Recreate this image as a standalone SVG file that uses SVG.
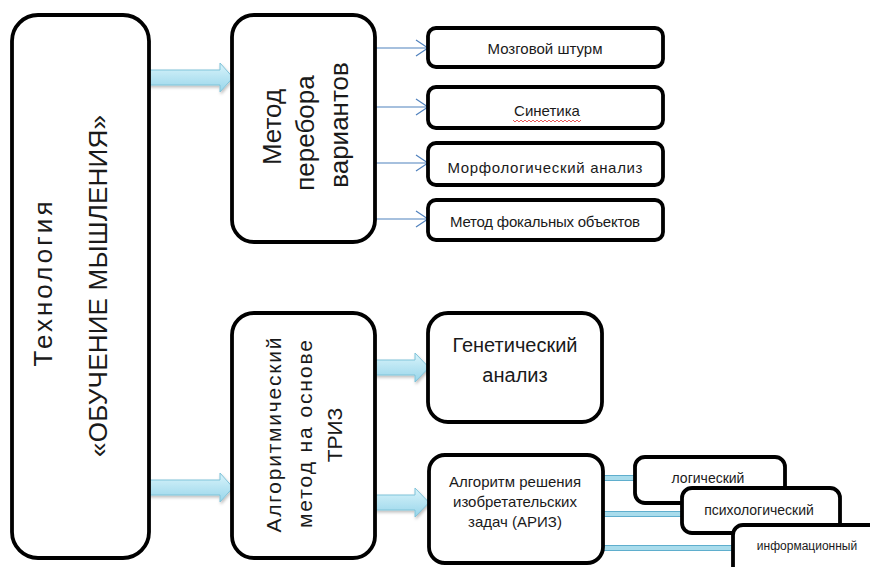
<svg xmlns="http://www.w3.org/2000/svg" width="870" height="567" viewBox="0 0 870 567">
<style>
.box{fill:#fff;stroke:#000;stroke-width:3.8}
.t{font-family:"Liberation Sans",Arial,sans-serif;fill:#1a1a1a;text-anchor:middle}
.thin{stroke:#4f81bd;stroke-width:1.2;fill:none}
.blk{fill:url(#g);stroke:#7fc3d9;stroke-width:1;filter:url(#sh)}
.bar{fill:#a9dcec;stroke:#5faecd;stroke-width:1}
</style>
<defs>
<linearGradient id="g" x1="0" y1="0" x2="0" y2="1">
<stop offset="0" stop-color="#d9f4fb"/>
<stop offset="1" stop-color="#97d5ea"/>
</linearGradient>
<filter id="sh" x="-20%" y="-40%" width="140%" height="180%">
<feDropShadow dx="1" dy="2" stdDeviation="1.5" flood-color="#000" flood-opacity="0.25"/>
</filter>
<marker id="open" markerWidth="14" markerHeight="18" refX="13" refY="9" orient="auto" markerUnits="userSpaceOnUse">
<path d="M1 1 L13 9 L1 17" fill="none" stroke="#4f81bd" stroke-width="1.2"/>
</marker>
</defs>

<g id="connectors">
<path class="blk" d="M149 70 H220 V63 L233 77.5 L220 92 V85 H149 Z"/>
<path class="blk" d="M149 480 H220 V473 L233 487.5 L220 502 V495 H149 Z"/>
<path class="blk" d="M375 360 H415 V353 L429 367.5 L415 382 V375 H375 Z"/>
<path class="blk" d="M375 495 H415 V488 L429 502.5 L415 517 V510 H375 Z"/>
<line class="thin" x1="375" y1="48" x2="428" y2="48" marker-end="url(#open)"/>
<line class="thin" x1="375" y1="107" x2="428" y2="107" marker-end="url(#open)"/>
<line class="thin" x1="375" y1="163" x2="428" y2="163" marker-end="url(#open)"/>
<line class="thin" x1="375" y1="219" x2="428" y2="219" marker-end="url(#open)"/>
<rect class="bar" x="603" y="475.5" width="33" height="5"/>
<rect class="bar" x="603" y="511.5" width="80" height="5"/>
<rect class="bar" x="603" y="545.5" width="131" height="5"/>
</g>

<g id="main">
<rect class="box" x="12" y="15" width="137" height="543" rx="26"/>
<text class="t" font-size="26" transform="translate(52,284) rotate(-90)" textLength="165" lengthAdjust="spacing">Технология</text>
<text class="t" font-size="26" transform="translate(107,286) rotate(-90)" textLength="342" lengthAdjust="spacing">«ОБУЧЕНИЕ МЫШЛЕНИЯ»</text>
</g>

<g id="perebor">
<rect class="box" x="232" y="15" width="143" height="227" rx="22"/>
<text class="t" font-size="26" transform="translate(281,127) rotate(-90)">Метод</text>
<text class="t" font-size="26" transform="translate(314,133) rotate(-90)">перебора</text>
<text class="t" font-size="26" transform="translate(348,125) rotate(-90)">вариантов</text>
</g>

<g id="brainstorm">
<rect class="box" x="428" y="28" width="235" height="39" rx="8"/>
<text class="t" font-size="15" x="545" y="54">Мозговой штурм</text>
</g>
<g id="synectics">
<rect class="box" x="428" y="87" width="235" height="41" rx="8"/>
<text class="t" font-size="15" x="547" y="116">Синетика</text>
<path d="M513 120 l2 2 l2 -2 l2 2 l2 -2 l2 2 l2 -2 l2 2 l2 -2 l2 2 l2 -2 l2 2 l2 -2 l2 2 l2 -2 l2 2 l2 -2 l2 2 l2 -2 l2 2 l2 -2 l2 2 l2 -2 l2 2 l2 -2 l2 2 l2 -2 l2 2 l2 -2 l2 2 l2 -2 l2 2 l2 -2 l2 2 l2 -2" fill="none" stroke="#e03030" stroke-width="0.8"/>
</g>
<g id="morph">
<rect class="box" x="428" y="143" width="235" height="42" rx="8"/>
<text class="t" font-size="15" x="545" y="173" textLength="195" lengthAdjust="spacing">Морфологический анализ</text>
</g>
<g id="focal">
<rect class="box" x="428" y="200" width="235" height="40" rx="8"/>
<text class="t" font-size="15" x="545" y="227" textLength="190" lengthAdjust="spacing">Метод фокальных объектов</text>
</g>

<g id="algo">
<rect class="box" x="232" y="313" width="143" height="245" rx="22"/>
<text class="t" font-size="21" transform="translate(281,435) rotate(-90)" textLength="195" lengthAdjust="spacing">Алгоритмический</text>
<text class="t" font-size="21" transform="translate(312,434) rotate(-90)" textLength="188" lengthAdjust="spacing">метод на основе</text>
<text class="t" font-size="21" transform="translate(342,435) rotate(-90)">ТРИЗ</text>
</g>

<g id="genetic">
<rect class="box" x="428" y="313" width="174" height="109" rx="20"/>
<text class="t" font-size="20" x="515" y="352">Генетический</text>
<text class="t" font-size="20" x="515" y="382">анализ</text>
</g>

<g id="ariz">
<rect class="box" x="429" y="455" width="174" height="108" rx="16"/>
<text class="t" font-size="15" x="515" y="487">Алгоритм решения</text>
<text class="t" font-size="15" x="515" y="507">изобретательских</text>
<text class="t" font-size="15" x="515" y="527">задач (АРИЗ)</text>
</g>

<g id="logical">
<rect class="box" x="635" y="457" width="150" height="46" rx="10"/>
<text class="t" font-size="14" x="708" y="483">логический</text>
</g>
<g id="psych">
<rect class="box" x="682" y="488" width="158" height="45" rx="10"/>
<text class="t" font-size="14" x="759" y="515">психологический</text>
</g>
<g id="info">
<rect class="box" x="733" y="525" width="160" height="60" rx="10"/>
<text class="t" font-size="12" x="807" y="550">информационный</text>
</g>
</svg>
